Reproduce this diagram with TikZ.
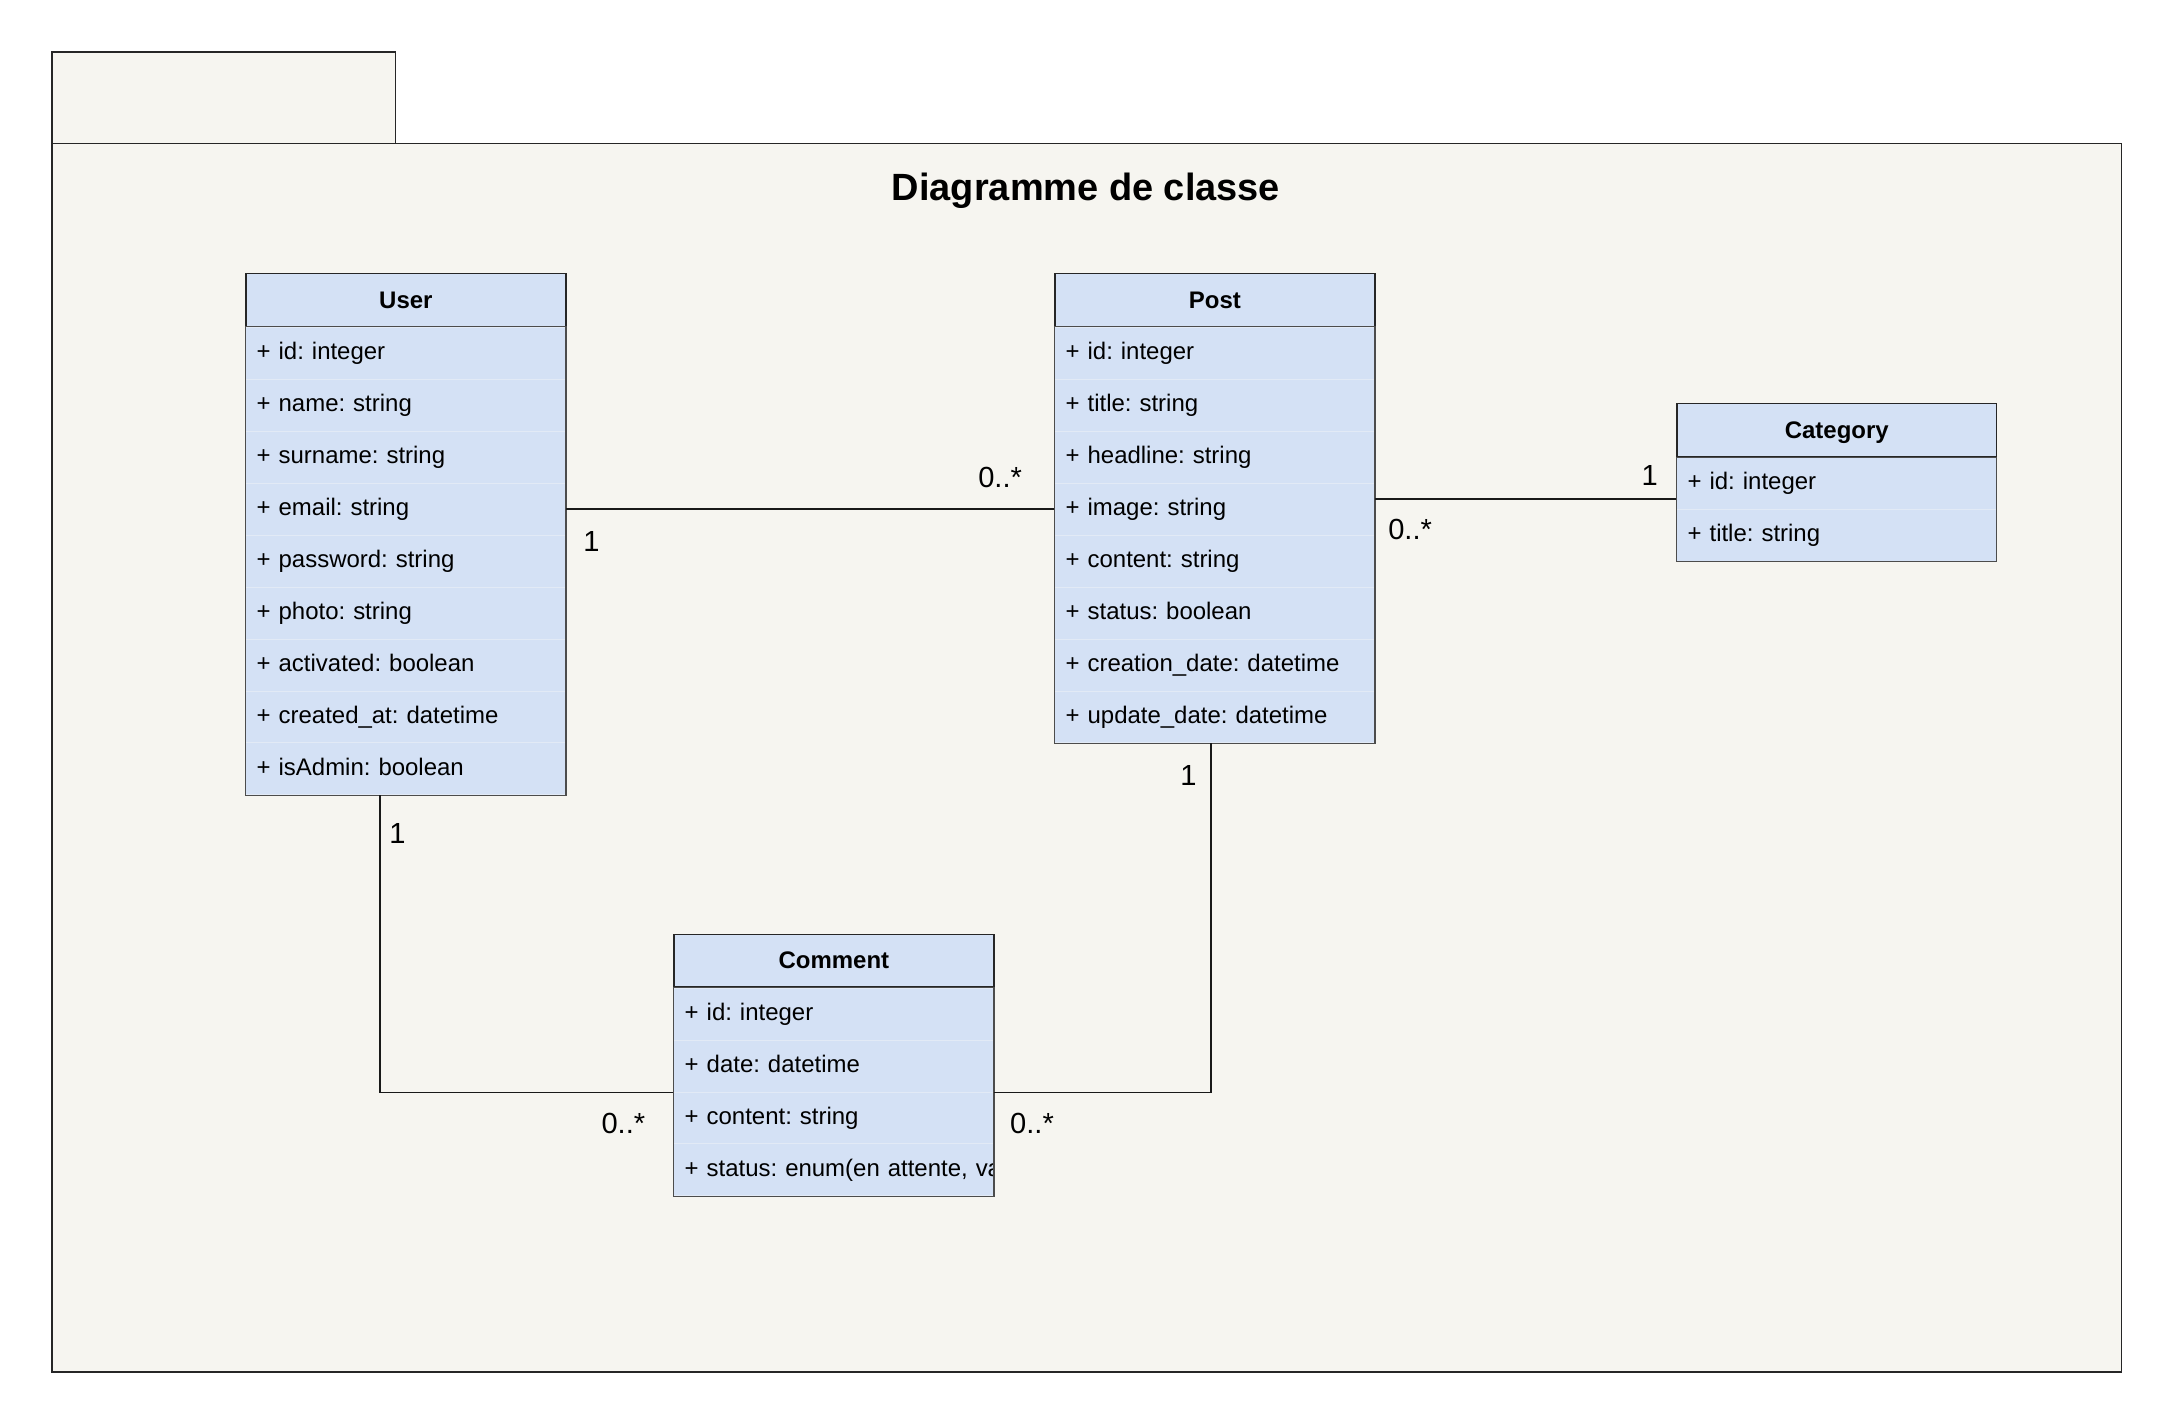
\documentclass[tikz,border=0pt]{standalone}
\usepackage{fontspec}
\setmainfont{Liberation Sans}
\usetikzlibrary{calc,positioning}
\frenchspacing

\definecolor{classblue}{HTML}{D4E1F5}
\definecolor{pkgfill}{HTML}{F6F5F0}
\definecolor{rowline}{HTML}{E2EAF6}

\tikzset{
  pkgbox/.style={draw=black!85, line width=1.1pt, fill=pkgfill, rectangle, anchor=north west, inner sep=0pt},
  classhead/.style={draw=black!85, line width=1pt, fill=classblue, rectangle, anchor=north west,
    minimum width=231pt, minimum height=38pt, inner sep=0pt, text height=14pt, text depth=2pt,
    font=\bfseries\fontsize{17.3}{20}\selectfont},
  attrrow/.style={draw=rowline, line width=.6pt, fill=classblue, rectangle, anchor=north west,
    minimum height=37.5pt, text width=215pt, inner xsep=8pt, inner ysep=0pt, align=left,
    text height=12pt, text depth=3pt, font=\fontsize{17.3}{20}\selectfont},
  classborder/.style={draw=black!70, line width=.8pt},
  assoc/.style={draw=black!90, line width=1.2pt},
  mult/.style={font=\fontsize{21}{24}\selectfont, inner sep=0pt},
}

\begin{document}
\begin{tikzpicture}[x=1pt,y=-1pt]

  \fill [white] (0,0) rectangle (1568,1026.6);
  \useasboundingbox (0,0) rectangle (1568,1026.6);

  % package frame
  \node [pkgbox, minimum width=248pt, minimum height=66pt] at (37,37) (pkg_tab) {};
  \node [pkgbox, minimum width=1494pt, minimum height=887pt] at (37,103) (pkg) {};
  \node [font=\bfseries\fontsize{27.4}{32}\selectfont] at (784,137.5) (pkg_title) {Diagramme de classe};

  % User
  \node [classhead] at (177,197) (user) {User};
  \foreach \attr [count=\i from 0] in {+ id: integer, + name: string, + surname: string, + email: string,
      + password: string, + photo: string, + activated: boolean, + created\_at: datetime, + isAdmin: boolean}{
    \node [attrrow] at ($(user.south west)+(0,\i*37.5)$) (user_\i) {\attr};
  }
  \draw [classborder] (user.south west) rectangle (user_8.south east);

  % Post
  \node [classhead] at (761,197) (post) {Post};
  \foreach \attr [count=\i from 0] in {+ id: integer, + title: string, + headline: string, + image: string,
      + content: string, + status: boolean, + creation\_date: datetime, + update\_date: datetime}{
    \node [attrrow] at ($(post.south west)+(0,\i*37.5)$) (post_\i) {\attr};
  }
  \draw [classborder] (post.south west) rectangle (post_7.south east);

  % Category
  \node [classhead] at (1210,291) (cat) {Category};
  \foreach \attr [count=\i from 0] in {+ id: integer, + title: string}{
    \node [attrrow] at ($(cat.south west)+(0,\i*37.5)$) (cat_\i) {\attr};
  }
  \draw [classborder] (cat.south west) rectangle (cat_1.south east);

  % Comment
  \node [classhead] at (486,674) (comment) {Comment};
  \begin{scope}
    \clip (comment.south west) rectangle ++(231,150);
    \foreach \attr [count=\i from 0] in {+ id: integer, + date: datetime, + content: string,
        {\mbox{+ status: enum(en attente, va}}}{
      \node [attrrow] at ($(comment.south west)+(0,\i*37.5)$) (comment_\i) {\attr};
    }
  \end{scope}
  \draw [classborder] (comment.south west) rectangle (comment_3.south east);

  % associations
  \coordinate (post_cat) at ([yshift=-11.5pt]post_3.north east);
  \draw [assoc] (user_3.east) -- (post_3.west);
  \draw [assoc] (post_cat) -- (post_cat -| cat_0.west);
  \draw [assoc] ([xshift=-18.5pt]user_8.south) |- (comment_1.south west);
  \draw [assoc] ([xshift=-2.5pt]post_7.south) |- (comment_1.south east);

  % multiplicities
  \node [mult] at (722,345) (m_post_user) {0..*};
  \node [mult] at (427,391) (m_user_post) {1};
  \node [mult] at (1191,343) (m_cat) {1};
  \node [mult] at (1018,382) (m_post_cat) {0..*};
  \node [mult] at (287,602) (m_user_com) {1};
  \node [mult] at (450,811) (m_com_user) {0..*};
  \node [mult] at (858,560) (m_post_com) {1};
  \node [mult] at (745,811) (m_com_post) {0..*};

\end{tikzpicture}
\end{document}
